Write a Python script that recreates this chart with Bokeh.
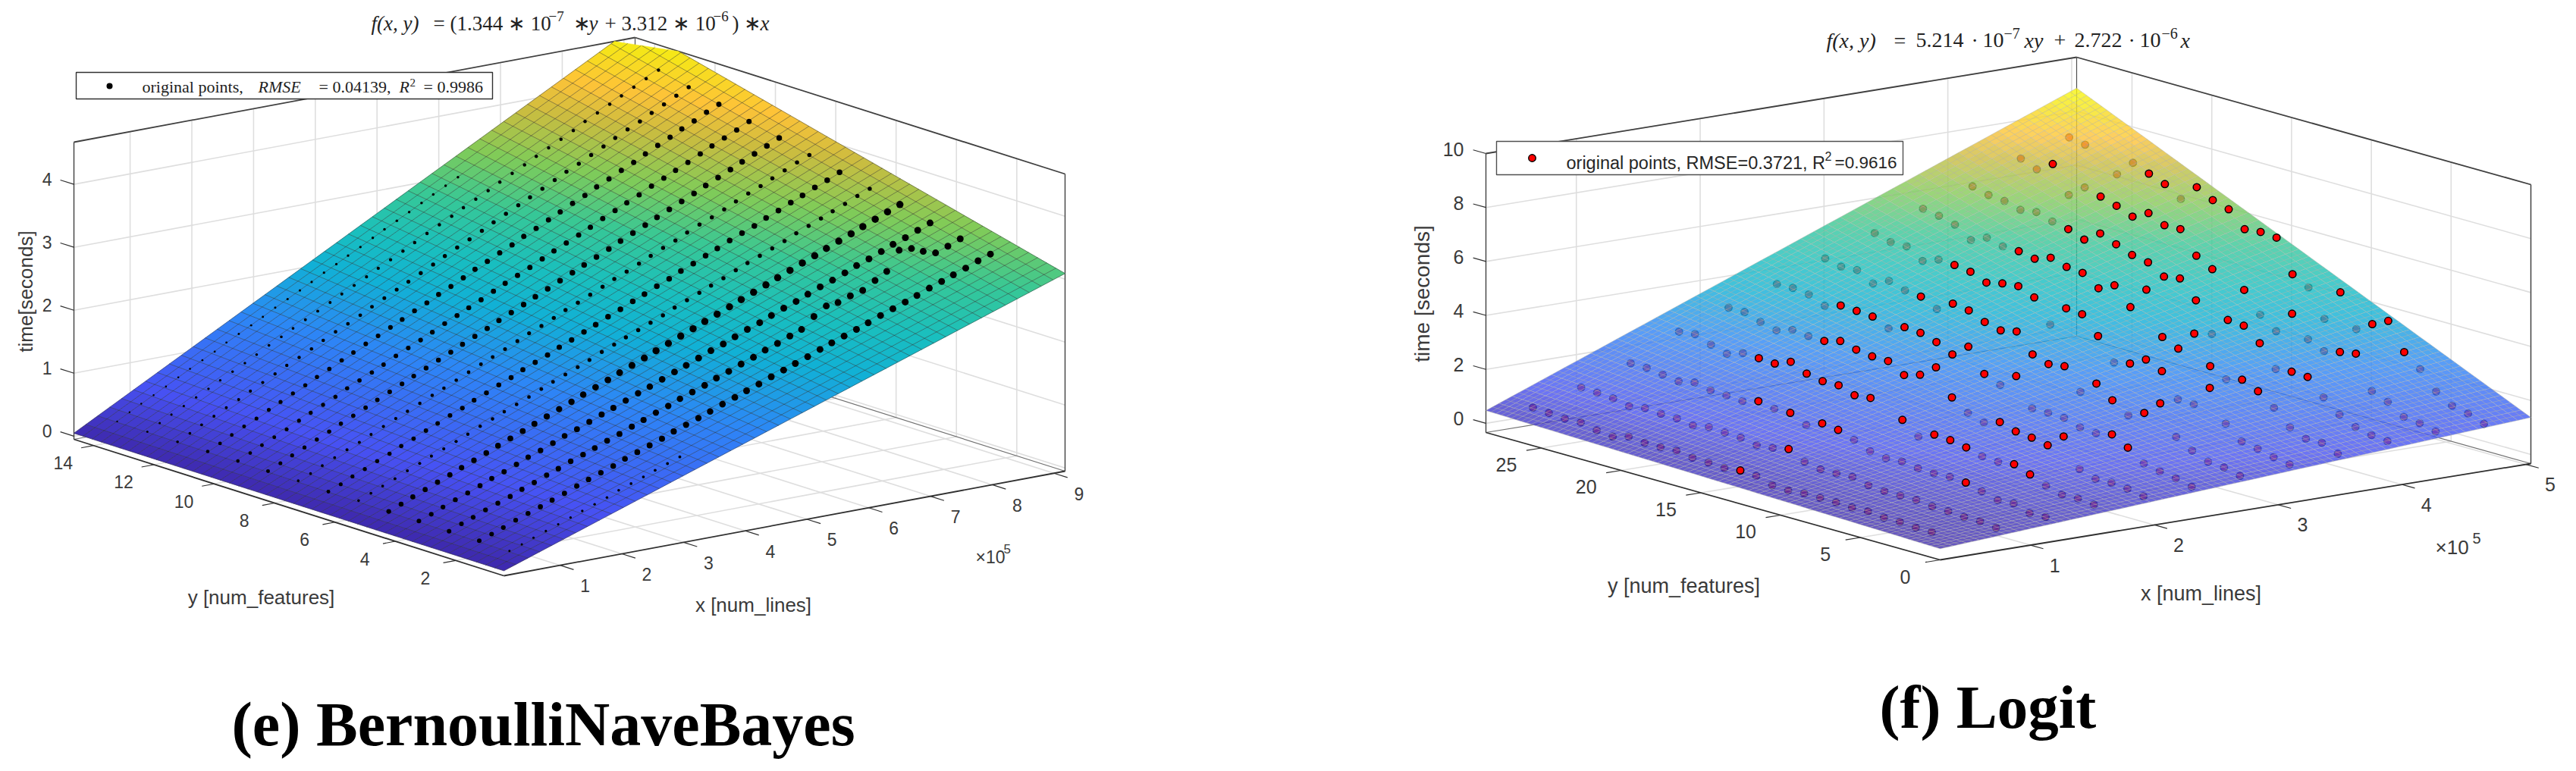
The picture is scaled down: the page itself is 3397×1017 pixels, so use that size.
import numpy as np
from bokeh.plotting import figure
from bokeh.models import Range1d, ColumnDataSource
from bokeh.core.properties import value
from bokeh.embed import file_html
from bokeh.resources import INLINE

# ---------- panel (e): BernoulliNaveBayes ----------
e_coef = (1.344e-2, 0.3312)      # per 1e5 lines: f = (a*y + b)*x, from the panel title
e_x_ticks = [1, 2, 3, 4, 5, 6, 7, 8, 9]
e_y_ticks = [2, 4, 6, 8, 10, 12, 14]
e_z_ticks = [0, 1, 2, 3, 4]
e_x_points = [0.60,0.80,0.99,1.19,1.39,1.59,1.78,1.98,2.18,2.37,2.57,2.77,2.96,3.16,3.36,3.56,3.75,3.95,4.15,4.34,4.54,4.74,4.93,5.13,5.33,5.53,5.72,5.92,6.12,6.31,6.51,6.71,6.90,7.10,7.30,7.50,7.69,7.89,8.09,8.28,8.48,8.68,8.88]
e_y_rows = [1.26,2.26,3.26,4.26,5.26,6.26,7.26,8.26,9.26,10.26,11.26,12.26,13.26,14.26]
e_t_y01 = [.12,.19,.26,.33,.40,.47,.54,.61,.68,.76,.83,.90,.97,1.04,1.11]
e_t_y02 = [.13,.20,.27,.35,.42,.49,.56,.63,.71,.78,.85,.92,1.00,1.07,1.14,1.21,1.29,1.36,1.43,1.50,1.58,1.65,1.72,1.79,1.87,1.94,2.01,2.08,2.16,2.23,2.30,2.37,2.44,2.52,2.59,2.66,2.73,2.81,2.88,2.95,3.02,3.10,3.17]
e_t_y03 = [.13,.21,.28,.36,.43,.50,.58,.65,.73,.80,.88,.95,1.02,1.10,1.17,1.25,1.32,1.40,1.47,1.55,1.62,1.69,1.77,1.84,1.92,1.99,2.07,2.14,2.22,2.29,2.46,2.59,2.61,2.68,2.73,2.85,2.96,3.26,3.25,3.17,3.11,3.18,3.26]
e_t_y04 = [.14,.21,.29,.37,.44,.52,.60,.67,.75,.83,.90,.98,1.06,1.13,1.21,1.29,1.36,1.44,1.52,1.59,1.67,1.75,1.82,1.90,1.98,2.05,2.13,2.21,2.28,2.36,2.44,2.51,2.59,2.67,2.74,2.82,2.90,2.97,3.05,3.13,3.20,3.28,3.36]
e_t_y05 = [.14,.22,.30,.38,.46,.54,.62,.70,.78,.86,.94,1.02,1.10,1.18,1.26,1.34,1.42,1.50,1.58,1.66,1.74,1.82,1.90,1.98,2.06,2.14,2.22,2.30,2.38,2.46,2.54,2.62,2.70,2.78,2.86,2.94,3.02,3.10,3.18,3.26,3.34,3.42,3.50]
e_t_y06 = [.16,.24,.32,.40,.49,.57,.65,.73,.81,.89,.98,1.06,1.14,1.22,1.30,1.39,1.47,1.55,1.63,1.71,1.80,1.88,1.96,2.04,2.12,2.20,2.29,2.37,2.45,2.53,2.61,2.70,2.78,2.86,2.94,3.02,3.11,3.19,3.27,3.35,3.43,3.52,3.60]
e_t_y07 = [.15,.23,.32,.40,.49,.57,.66,.74,.83,.91,1.00,1.08,1.17,1.25,1.34,1.42,1.51,1.59,1.67,1.76,1.84,1.93,2.01,2.10,2.18,2.27,2.35,2.44,2.52,2.61,2.69,2.78,2.86,2.95,3.03,3.11,3.20,3.28,3.37,3.45,3.54,3.62,3.71]
e_t_y08 = [.17,.25,.34,.43,.52,.60,.69,.78,.87,.95,1.04,1.13,1.21,1.30,1.39,1.48,1.56,1.65,1.74,1.83,1.91,2.00,2.09,2.17,2.26,2.35,2.44,2.52,2.61,2.70,2.79,2.87,2.96,3.05,3.13,3.22,3.31,3.40,3.48,3.57,3.66,3.75,3.83]
e_t_y09 = [.17,.26,.35,.44,.53,.62,.71,.80,.89,.98,1.07,1.16,1.25,1.34,1.43,1.52,1.61,1.70,1.79,1.88,1.97,2.06,2.15,2.24,2.33,2.42,2.51,2.60,2.69,2.78,2.87,2.96,3.05,3.14,3.23,3.32,3.41,3.50,3.59,3.68,3.77,3.86,3.95]
e_t_y10 = [.18,.27,.36,.45,.54,.64,.73,.82,.91,1.01,1.10,1.19,1.28,1.38,1.47,1.56,1.65,1.75,1.84,1.93,2.02,2.12,2.21,2.30,2.39,2.49,2.58,2.67,2.76,2.85,2.95,3.04,3.13,3.22,3.32,3.41,3.50,3.59,3.69,3.78,3.87,3.96,4.06]
e_t_y11 = [.18,.27,.37,.47,.56,.66,.75,.85,.94,1.04,1.13,1.23,1.32,1.42,1.51,1.61,1.70,1.80,1.89,1.99,2.08,2.18,2.28,2.37,2.47,2.56,2.66,2.75,2.85,2.94,3.04,3.13,3.23,3.32,3.42,3.51,3.61,3.71,3.80,3.90,3.99,4.09,4.18]
e_t_y12 = [.18,.28,.38,.48,.58,.67,.77,.87,.97,1.07,1.16,1.26,1.36,1.46,1.55,1.65,1.75,1.85,1.95,2.04,2.14,2.24,2.34,2.44,2.53,2.63,2.73,2.83,2.93,3.02,3.12,3.22,3.32,3.41,3.51,3.61,3.71,3.81,3.90,4.00,4.10,4.20,4.30]
e_t_y13 = [.19,.29,.39,.49,.59,.69,.79,.89,.99,1.09,1.20,1.30,1.40,1.50,1.60,1.70,1.80,1.90,2.00,2.10,2.20,2.30,2.40,2.51,2.61,2.71,2.81,2.91,3.01,3.11,3.21,3.31,3.41,3.51,3.61,3.71,3.82,3.92,4.02,4.12,4.22,4.32,4.42]
e_t_y14 = [.20,.31,.41,.51,.61,.72,.82,.92,1.02,1.13,1.23,1.33,1.43,1.54,1.64,1.74,1.84,1.95,2.05,2.15,2.25,2.36,2.46,2.56,2.66,2.77,2.87,2.97,3.07]
e_rows = [e_t_y01,e_t_y02,e_t_y03,e_t_y04,e_t_y05,e_t_y06,e_t_y07,e_t_y08,e_t_y09,e_t_y10,e_t_y11,e_t_y12,e_t_y13,e_t_y14]

# ---------- panel (f): Logit ----------
f_coef = (0.05214, 0.2722)       # per 1e5 lines: f = (a*y + b)*x, from the panel title
f_x_ticks = [1, 2, 3, 4, 5]
f_y_ticks = [0, 5, 10, 15, 20, 25]
f_z_ticks = [0, 2, 4, 6, 8, 10]
f_x_rows = [0.46,0.85,1.25,1.64,2.04,2.43,2.82,3.22,3.61,4.01,4.40,4.79]
f_y_points = list(range(27, 0, -1))
f_t_0 = [.67,.63,.58,.60,.47,.40,.56,.49,.49,.52,.42,.40,.36,.43,.39,.20,.17,.22,.22,.21,.18,.20,.13,.13,.08,.08,None]
f_t_1 = [1.13,1.10,1.05,.92,1.01,.96,.95,.85,.95,.91,.88,.76,.82,.94,.63,.51,.52,.55,.40,.34,.34,.34,.26,.24,.19,.19,.11]
f_t_2 = [1.74,1.73,1.64,1.55,1.67,1.54,1.51,1.46,1.62,1.50,1.51,1.22,1.44,1.36,1.15,.89,.79,.83,.74,.72,.74,.69,.53,.36,.40,.20,.22]
f_t_3 = [2.63,2.70,2.47,2.29,2.48,2.45,2.41,2.64,2.36,2.24,2.25,2.04,2.10,None,1.61,1.15,1.38,1.34,1.23,1.06,1.02,1.09,.87,.61,.44,.46,.39]
f_t_4 = [3.23,3.23,3.02,2.87,3.05,2.98,2.96,3.12,2.96,2.87,2.86,2.50,2.67,3.11,2.15,1.74,1.54,1.72,1.53,1.46,1.34,1.83,.78,.57,.59,.53,.41]
f_t_5 = [3.82,3.84,3.76,3.50,3.67,3.63,3.58,3.30,3.51,3.46,3.28,2.98,3.43,2.58,2.33,2.82,1.78,1.78,1.75,1.56,1.50,1.62,1.29,.86,.73,.63,.48]
f_t_6 = [4.49,4.35,4.38,4.04,4.30,4.11,4.04,3.74,4.10,4.01,3.74,3.59,3.71,3.02,2.82,2.90,2.11,2.58,2.12,1.72,1.97,2.49,1.40,1.05,.80,.75,.60]
f_t_7 = [5.14,4.97,4.97,4.59,4.80,4.76,4.67,4.43,4.56,4.62,4.36,3.51,4.28,4.22,3.57,2.75,2.87,3.18,2.91,2.02,2.00,2.77,1.60,1.10,.99,.84,.73]
f_t_8 = [5.76,5.66,5.49,5.08,5.33,5.17,5.15,5.03,5.23,5.05,4.99,4.58,4.85,4.20,5.01,3.41,3.14,3.86,2.81,2.48,2.63,2.36,1.91,1.34,1.08,1.09,.84]
f_t_9 = [6.30,6.14,6.08,5.91,5.99,5.80,5.68,5.45,5.84,5.60,5.36,5.25,4.88,4.97,4.32,3.23,3.91,3.86,3.37,2.57,2.63,2.60,2.00,1.52,1.22,1.08,1.02]
f_t_10 = [7.05,6.81,7.17,6.18,6.62,6.44,6.26,6.02,6.31,6.02,6.04,5.21,4.87,None,4.42,3.66,3.21,4.02,3.23,2.95,3.08,3.18,1.95,1.71,1.31,1.24,1.09]
f_t_11 = [7.55,7.44,None,6.66,7.25,7.01,6.78,6.39,6.99,6.67,6.49,5.91,5.97,5.92,4.72,4.39,3.38,4.53,3.32,3.67,3.95,2.95,2.48,1.81,1.44,1.31,1.09]
f_rows = [f_t_0,f_t_1,f_t_2,f_t_3,f_t_4,f_t_5,f_t_6,f_t_7,f_t_8,f_t_9,f_t_10,f_t_11]
# y values of each x-row whose point lies in front of the surface
f_front_0 = [14]
f_front_1 = [14]
f_front_2 = [19,17,15,14,6]
f_front_3 = [22,21,20,19,18,17,16,15,13,11,10,9,6,5]
f_front_4 = [21,20,19,18,17,16,15,14,13,10,9,8,7,6]
f_front_5 = [23,22,21,19,18,17,16,15,14,12,6,5]
f_front_6 = [21,19,18,17,16,15,14,13,12,10,9,7,6]
f_front_7 = [22,21,20,19,18,17,15,14,13,11,10,9,6]
f_front_8 = [21,20,19,18,17,16,15,14,13,12,11,10,9,7,6]
f_front_9 = [21,20,19,18,17,16,15,14,13,11,10,9,7,6]
f_front_10 = [25,22,21,20,19,18,17,16,15,13,10,7,6]
f_front_11 = [22,21,19,18,17,16,15,14,13,10,8,7,6]
f_fronts = [f_front_0,f_front_1,f_front_2,f_front_3,f_front_4,f_front_5,f_front_6,f_front_7,f_front_8,f_front_9,f_front_10,f_front_11]

PARULA = [(0,.2422,.1504,.6603),(.125,.2810,.3228,.9578),(.3,.1786,.5289,.9682),(.42,.0689,.6948,.8394),
          (.5,.1000,.7500,.7500),(.6,.2161,.7843,.5923),(.7,.5044,.7993,.3480),(.8,.8000,.7400,.2500),
          (.87,.9970,.7659,.2199),(.95,.9638,.9000,.1000),(1,.9763,.9831,.0538)]

def parula(t):
    s = [a[0] for a in PARULA]
    r, g, b = [np.interp(t, s, [a[k] for a in PARULA]) for k in (1, 2, 3)]
    return "#%02x%02x%02x" % (int(r*255), int(g*255), int(b*255))

W, H = 3381, 1001
p = figure(width=W, height=H, x_range=Range1d(8, 8+W), y_range=Range1d(8+H, 8),
           x_axis_type=None, y_axis_type=None, toolbar_location=None, output_backend="svg",
           min_border=0, outline_line_color=None)
p.grid.visible = False

def label(x, y, txt, size, font="Liberation Sans", style="normal", align="left", base="alphabetic",
          color="#3a3a3a", angle=0):
    # the SVG text of a glyph with an alphabetic baseline lands about a quarter em low
    yy = y-0.255*size if base == "alphabetic" else y
    p.text([x], [yy], text=[txt], text_font=value(font), text_font_size=f"{size}px", text_font_style=style,
           text_align=align, text_baseline=base, text_color=color, angle=angle)

class Axes3:
    def __init__(s, o, cx, cy, h, xr, yr, zr):
        s.o, s.xr, s.yr, s.zr = o, xr, yr, zr
        s.ex = ((cx[0]-o[0])/(xr[1]-xr[0]), (cx[1]-o[1])/(xr[1]-xr[0]))
        s.ey = ((cy[0]-o[0])/(yr[1]-yr[0]), (cy[1]-o[1])/(yr[1]-yr[0]))
        s.ez = h/(zr[1]-zr[0])
    def __call__(s, x, y, z):
        x, y, z = np.asarray(x, float), np.asarray(y, float), np.asarray(z, float)
        dx, dy = x-s.xr[0], y-s.yr[0]
        return (s.o[0]+dx*s.ex[0]+dy*s.ey[0], s.o[1]+dx*s.ex[1]+dy*s.ey[1]-(z-s.zr[0])*s.ez)

def seg(ax, a, b, color, width, alpha=1.0):
    xa, ya = ax(*a); xb, yb = ax(*b)
    p.line([float(xa), float(xb)], [float(ya), float(yb)], line_color=color, line_width=width, line_alpha=alpha)

def box(ax, xt, yt, zt, gridc="#dedede", edge="#404040"):
    (x0, x1), (y0, y1), (z0, z1) = ax.xr, ax.yr, ax.zr
    for z in zt:
        seg(ax, (x0, y1, z), (x1, y1, z), gridc, 1.6)
        seg(ax, (x1, y1, z), (x1, y0, z), gridc, 1.6)
    for x in xt:
        seg(ax, (x, y1, z0), (x, y1, z1), gridc, 1.6)
        seg(ax, (x, y0, z0), (x, y1, z0), gridc, 1.6)
    for y in yt:
        seg(ax, (x1, y, z0), (x1, y, z1), gridc, 1.6)
        seg(ax, (x0, y, z0), (x1, y, z0), gridc, 1.6)
    seg(ax, (x0, y1, z0), (x1, y1, z0), "#707070", 1.2)
    seg(ax, (x1, y1, z0), (x1, y0, z0), "#707070", 1.2)
    seg(ax, (x1, y1, z0), (x1, y1, z1), "#505050", 1.2)
    seg(ax, (x0, y1, z0), (x0, y1, z1), edge, 1.4)
    seg(ax, (x1, y0, z0), (x1, y0, z1), edge, 1.4)
    seg(ax, (x0, y1, z1), (x1, y1, z1), edge, 1.8)
    seg(ax, (x1, y1, z1), (x1, y0, z1), edge, 1.8)

def front_edges(ax, xt, yt, zt, tx, ty, tz, edge="#303030"):
    (x0, x1), (y0, y1), (z0, z1) = ax.xr, ax.yr, ax.zr
    seg(ax, (x0, y1, z0), (x0, y0, z0), edge, 1.8)
    seg(ax, (x0, y0, z0), (x1, y0, z0), edge, 1.8)
    for x in xt:
        seg(ax, (x, y0, z0), (x, y0-tx, z0), edge, 1.2)
    for y in yt:
        seg(ax, (x0, y, z0), (x0-ty, y, z0), edge, 1.2)
    for z in zt:
        seg(ax, (x0, y1, z), (x0, y1+tz, z), edge, 1.2)

def clip_top(poly, zmax):
    out = []
    for k in range(len(poly)):
        a, b = poly[k], poly[(k+1) % len(poly)]
        ain, bin_ = a[2] <= zmax, b[2] <= zmax
        if ain:
            out.append(a)
        if ain != bin_:
            t = (zmax-a[2])/(b[2]-a[2])
            out.append(tuple(a[i]+t*(b[i]-a[i]) for i in range(3)))
    return out

def surface(ax, coef, nfill, nmesh, alpha, mesh_color, mesh_alpha, mesh_width):
    a, b = coef
    f = lambda x, y: (a*y+b)*x
    (x0, x1), (y0, y1), (z0, z1) = ax.xr, ax.yr, ax.zr
    top = f(x1, y1)
    xs = np.linspace(x0, x1, nfill+1); ys = np.linspace(y0, y1, nfill+1)
    px_, py_, col = [], [], []
    for i in range(nfill):
        for j in range(nfill):
            q = [(xs[i], ys[j]), (xs[i+1], ys[j]), (xs[i+1], ys[j+1]), (xs[i], ys[j+1])]
            poly = clip_top([(u, v, f(u, v)) for u, v in q], z1)
            if len(poly) < 3:
                continue
            X, Y = ax([c[0] for c in poly], [c[1] for c in poly], [c[2] for c in poly])
            px_.append(X.tolist()); py_.append(Y.tolist())
            col.append(parula(f(xs[i]+(xs[1]-xs[0])/2, ys[j]+(ys[1]-ys[0])/2)/top))
    src = ColumnDataSource(dict(xs=px_, ys=py_, c=col))
    if alpha >= 1:
        p.patches("xs", "ys", source=src, fill_color="c", line_color="c", line_width=0.6)
    else:
        p.patches("xs", "ys", source=src, fill_color="c", fill_alpha=alpha, line_color=None)
    mx, my = [], []
    for x in np.linspace(x0, x1, nmesh+1):
        yend = y1 if f(x, y1) <= z1 else (z1/x-b)/a
        X, Y = ax([x, x], [y0, yend], [f(x, y0), f(x, yend)])
        mx.append(X.tolist()); my.append(Y.tolist())
    for y in np.linspace(y0, y1, nmesh+1):
        xend = x1 if f(x1, y) <= z1 else z1/(a*y+b)
        X, Y = ax([x0, xend], [y, y], [f(x0, y), f(xend, y)])
        mx.append(X.tolist()); my.append(Y.tolist())
    p.multi_line(mx, my, line_color=mesh_color, line_alpha=mesh_alpha, line_width=mesh_width)

def segments(items, base, size, raised=11):
    for x, txt, style, sup in items:
        label(x, base-(raised if sup else 0), txt, int(size*0.72) if sup else size,
              font="Liberation Serif", style=style, color="#222222")

# ================= panel (e) =================
axe = Axes3((672, 767), (1412, 629), (105, 587), 392, (0.09, 9.18), (0.40, 14.65), (-0.05, 4.67))
box(axe, e_x_ticks, e_y_ticks, e_z_ticks)
surface(axe, e_coef, 47, 47, 1.0, "#303030", 0.6, 0.8)
e_row_size = [4.5, 9, 9, 9, 9.5, 5.5, 7.5, 5.5, 7.5, 7, 7, 5.5, 4.5, 3.5]
ex, ey, es = [], [], []
for yval, times, rs in zip(e_y_rows, e_rows, e_row_size):
    xv = e_x_points[:len(times)]
    X, Y = axe(xv, [yval]*len(times), times)
    ex += X.tolist(); ey += Y.tolist()
    es += [rs*(0.62+0.38*min(1.0, v/5.0)) for v in xv]
p.scatter(ex, ey, size=es, marker="circle", fill_color="black", line_color=None)
front_edges(axe, e_x_ticks, e_y_ticks, e_z_ticks, 0.45, 0.2, 0.45)

for z in e_z_ticks:
    X, Y = axe(axe.xr[0], axe.yr[1], z)
    label(float(X)-29, float(Y)-7, str(z), 23, align="right", base="middle")
for y in e_y_ticks:
    X, Y = axe(axe.xr[0], y, axe.zr[0])
    label(float(X)-40, float(Y)+23, str(y), 23, align="center", base="middle")
for x in e_x_ticks:
    X, Y = axe(x, axe.yr[0], axe.zr[0])
    label(float(X)+33, float(Y)+27, str(x), 23, align="center", base="middle")
label(1294, 748, "×10", 23)
label(1331, 736, "5", 17)
label(352, 795, "y [num_features]", 26, align="center", base="middle")
label(1001, 805, "x [num_lines]", 26, align="center", base="middle")
label(41, 392, "time[seconds]", 26, align="center", base="middle", angle=np.pi/2)

segments([(497, "f(x, y)", "italic", False), (579, "= (1.344 ∗ 10", "normal", False), (731, "−7", "normal", True),
          (763, "∗", "normal", False), (784, "y", "italic", False), (805, "+ 3.312 ∗ 10", "normal", False),
          (948, "−6", "normal", True), (973, ")", "normal", False), (988, "∗", "normal", False),
          (1010, "x", "italic", False)], 45, 27)
p.quad(left=[108], right=[657], top=[103], bottom=[138], fill_color="white", line_color="#303030", line_width=1.4)
p.scatter([152], [121], size=8, marker="circle", fill_color="black", line_color=None)
segments([(195, "original points,", "normal", False), (348, "RMSE", "italic", False), (428, "= 0.04139,", "normal", False),
          (534, "R", "italic", False), (548, "2", "normal", True), (566, "= 0.9986", "normal", False)], 128, 22, raised=8)
label(313, 984, "(e) BernoulliNaveBayes", 82, font="Liberation Serif", style="bold", color="black")

# ================= panel (f) =================
axf = Axes3((2566, 746), (3345, 619), (1967, 578), 368, (0.27, 5.04), (0.0, 28.47), (-0.34, 10.0))
# the point times were read against this calibration of the same box
axf_read = Axes3((2566, 739), (3345, 615), (1967, 576), 365, (0.27, 5.04), (0.0, 28.47), (-0.3, 10.0))
box(axf, f_x_ticks, f_y_ticks, f_z_ticks)
bx, by, fx, fy = [], [], [], []
for xval, times, front in zip(f_x_rows, f_rows, f_fronts):
    for yval, t in zip(f_y_points, times):
        if t is None:
            continue
        X, Y = axf_read(xval, yval, t)
        if yval in front:
            fx.append(float(X)); fy.append(float(Y))
        else:
            bx.append(float(X)); by.append(float(Y))
p.scatter(bx, by, size=9.5, marker="circle", fill_color="#ff0000", line_color="black", line_width=1.4)
surface(axf, f_coef, 45, 90, 0.8, "#b4b4a8", 0.8, 0.6)
p.scatter(fx, fy, size=9.5, marker="circle", fill_color="#ff0000", line_color="black", line_width=1.5)
front_edges(axf, f_x_ticks, f_y_ticks, f_z_ticks, 0.8, 0.12, 0.8)

for z in f_z_ticks:
    X, Y = axf(axf.xr[0], axf.yr[1], z)
    label(float(X)-29, float(Y)-6, str(z), 25, align="right", base="middle")
for y in f_y_ticks:
    X, Y = axf(axf.xr[0], y, axf.zr[0])
    label(float(X)-46, float(Y)+22, str(y), 25, align="center", base="middle")
for x in f_x_ticks:
    X, Y = axf(x, axf.yr[0], axf.zr[0])
    label(float(X)+32, float(Y)+26.5, str(x), 25, align="center", base="middle")
label(3219, 736, "×10", 26)
label(3268, 723, "5", 20)
label(2228, 780, "y [num_features]", 27, align="center", base="middle")
label(2910, 790, "x [num_lines]", 27, align="center", base="middle")
label(1883, 395, "time [seconds]", 28, align="center", base="middle", angle=np.pi/2)

segments([(2416, "f(x, y)", "italic", False), (2505, "=", "normal", False), (2534, "5.214", "normal", False),
          (2607, "·", "normal", False), (2622, "10", "normal", False), (2650, "−7", "normal", True),
          (2677, "xy", "italic", False), (2716, "+", "normal", False), (2743, "2.722", "normal", False),
          (2814, "·", "normal", False), (2829, "10", "normal", False), (2858, "−6", "normal", True),
          (2883, "x", "italic", False)], 68, 28)
p.quad(left=[1981], right=[2517], top=[194], bottom=[238], fill_color="white", line_color="#505050", line_width=1.4)
p.scatter([2028], [216], size=9.5, marker="circle", fill_color="#ff0000", line_color="black", line_width=1.4)
label(2073, 228, "original points, RMSE=0.3721, R", 23.5, color="#262626")
label(2414, 218, "2", 16, color="#262626")
label(2427, 228, "=0.9616", 22.5, color="#262626")
label(2486, 961, "(f) Logit", 81, font="Liberation Serif", style="bold", color="black")

open("out.html", "w").write(file_html(p, INLINE))
